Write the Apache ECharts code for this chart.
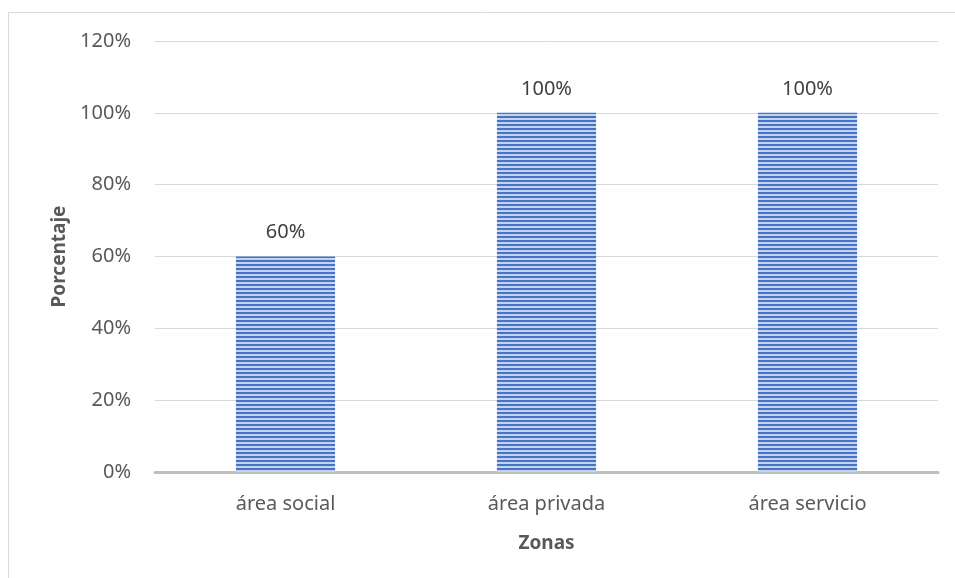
<!DOCTYPE html>
<html>
<head>
<meta charset="utf-8">
<script src="https://cdn.jsdelivr.net/npm/echarts@6/dist/echarts.min.js"></script>
<style>
  html, body { margin: 0; padding: 0; background: #fff; }
  #main { width: 955px; height: 578px; }
</style>
</head>
<body>
<div id="main"></div>
<script>
const categories = ['área social', 'área privada', 'área servicio']
const values = [60, 100, 100]
const yTicks = { min: 0, max: 120, interval: 20 }

// patrón de rayas horizontales para las barras
function stripePattern () {
  const c = document.createElement('canvas')
  c.width = 4
  c.height = 4
  const ctx = c.getContext('2d')
  ctx.fillStyle = '#c4d3ee'
  ctx.fillRect(0, 0, 4, 4)
  ctx.fillStyle = '#4573c6'
  ctx.fillRect(0, 0, 4, 2)
  return c
}

const chart = echarts.init(document.getElementById('main'))
const font = 'Noto Sans'

const option = {
  animation: false,
  graphic: [{
    type: 'rect',
    shape: { x: 8.5, y: 12.5, width: 960, height: 600 },
    style: { fill: 'none', stroke: '#d9d9d9', lineWidth: 1 },
    silent: true
  }],
  grid: { left: 155, right: 17, top: 41, bottom: 106 },
  xAxis: {
    type: 'category',
    data: categories,
    name: 'Zonas',
    nameLocation: 'middle',
    nameGap: 62,
    nameTextStyle: { fontFamily: font, fontSize: 19, fontWeight: 'bold', color: '#595959' },
    axisLine: { lineStyle: { color: '#bfbfbf', width: 3 } },
    axisTick: { show: false },
    axisLabel: { fontFamily: font, fontSize: 20, color: '#595959', margin: 22 }
  },
  yAxis: {
    type: 'value',
    min: yTicks.min,
    max: yTicks.max,
    interval: yTicks.interval,
    name: 'Porcentaje',
    nameLocation: 'middle',
    nameGap: 86,
    nameTextStyle: { fontFamily: font, fontSize: 19, fontWeight: 'bold', color: '#595959' },
    axisLine: { show: false },
    axisTick: { show: false },
    axisLabel: { fontFamily: font, fontSize: 20, color: '#595959', margin: 24, formatter: '{value}%' },
    splitLine: { lineStyle: { color: '#d9d9d9', width: 1 } }
  },
  series: [{
    type: 'bar',
    data: values,
    barWidth: '38%',
    itemStyle: { color: { image: stripePattern(), repeat: 'repeat' } },
    label: {
      show: true,
      position: 'top',
      distance: 14,
      formatter: '{c}%',
      fontFamily: font,
      fontSize: 20,
      color: '#404040'
    }
  }]
}
chart.setOption(option)
</script>
</body>
</html>
